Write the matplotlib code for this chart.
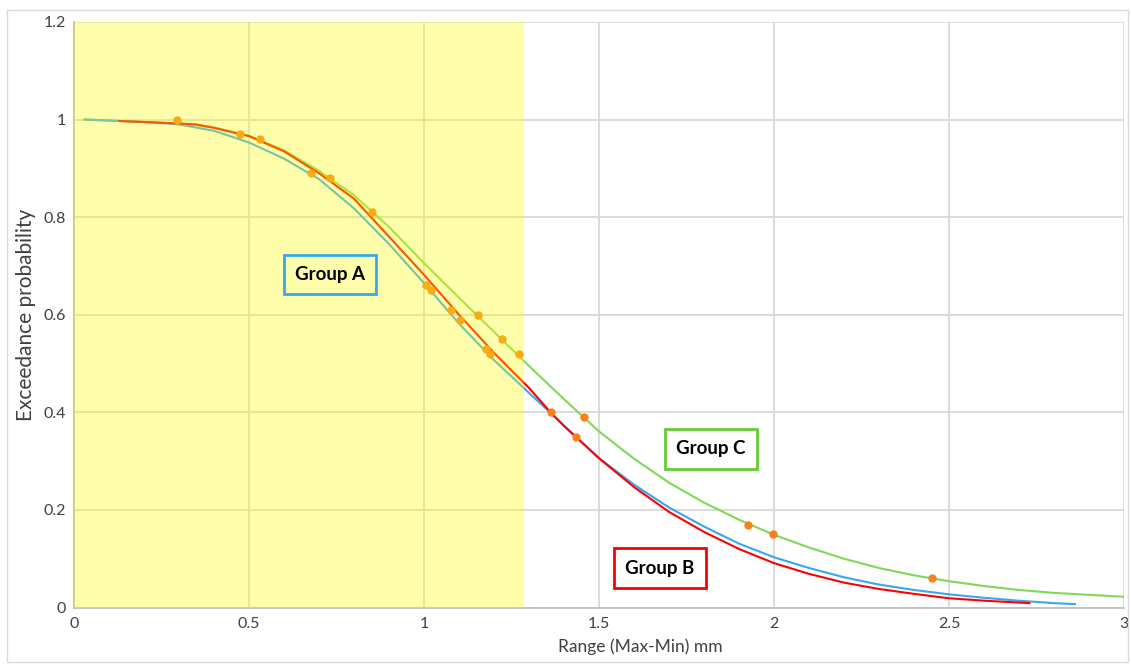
import numpy as np
import matplotlib
matplotlib.use("Agg")
import matplotlib.pyplot as plt
from matplotlib.patches import Rectangle

plt.rcParams['font.family'] = ['Lato', 'DejaVu Sans']

# fitted exceedance curves
a_x = [0.03, 0.1, 0.2, 0.3, 0.4, 0.5, 0.6, 0.7, 0.8, 0.9, 1.0, 1.1, 1.2, 1.3, 1.4,
       1.5, 1.6, 1.7, 1.8, 1.9, 2.0, 2.1, 2.2, 2.3, 2.4, 2.5, 2.6, 2.7, 2.8, 2.86]
a_y = [1.0, 0.998, 0.995, 0.99, 0.977, 0.953, 0.92, 0.878, 0.818, 0.745, 0.665, 0.582,
       0.507, 0.44, 0.373, 0.306, 0.252, 0.205, 0.166, 0.131, 0.103, 0.081, 0.062, 0.047,
       0.036, 0.027, 0.02, 0.014, 0.009, 0.007]

b_x = [0.13, 0.2, 0.3, 0.35, 0.4, 0.5, 0.6, 0.7, 0.8, 0.9, 1.0, 1.1, 1.2, 1.3, 1.363,
       1.4, 1.5, 1.6, 1.7, 1.8, 1.9, 2.0, 2.1, 2.2, 2.3, 2.4, 2.5, 2.6, 2.73]
b_y = [0.997, 0.995, 0.992, 0.99, 0.983, 0.966, 0.935, 0.89, 0.838, 0.76, 0.682, 0.6,
       0.522, 0.45, 0.399, 0.372, 0.306, 0.247, 0.196, 0.155, 0.12, 0.091, 0.069, 0.051,
       0.038, 0.028, 0.019, 0.014, 0.009]

c_x = [0.03, 0.1, 0.2, 0.3, 0.4, 0.5, 0.6, 0.7, 0.8, 0.9, 1.0, 1.1, 1.2, 1.3, 1.4, 1.5,
       1.6, 1.7, 1.8, 1.9, 2.0, 2.1, 2.2, 2.3, 2.4, 2.5, 2.6, 2.7, 2.8, 2.9, 3.0]
c_y = [1.0, 0.998, 0.995, 0.992, 0.984, 0.967, 0.937, 0.895, 0.845, 0.78, 0.706, 0.635,
       0.565, 0.495, 0.427, 0.361, 0.305, 0.256, 0.215, 0.18, 0.149, 0.123, 0.1, 0.081,
       0.066, 0.054, 0.044, 0.036, 0.03, 0.026, 0.022]

# observed points
obs_x = [0.294, 0.474, 0.531, 0.677, 0.731, 0.851, 1.007, 1.019, 1.077, 1.103, 1.155,
         1.177, 1.19, 1.223, 1.272, 1.363, 1.434, 1.457, 1.926, 1.997, 2.451]
obs_y = [1.0, 0.97, 0.96, 0.89, 0.88, 0.81, 0.66, 0.65, 0.61, 0.59, 0.60,
         0.53, 0.52, 0.55, 0.52, 0.40, 0.35, 0.39, 0.17, 0.15, 0.06]

highlight_end = 1.286

xticks = [0, 0.5, 1, 1.5, 2, 2.5, 3]
xticklabels = ['0', '0.5', '1', '1.5', '2', '2.5', '3']
yticks = [0, 0.2, 0.4, 0.6, 0.8, 1.0, 1.2]
yticklabels = ['0', '0.2', '0.4', '0.6', '0.8', '1', '1.2']

fig = plt.figure(figsize=(11.31, 6.66), dpi=100)
ax = fig.add_axes([0.0654, 0.0878, 0.9284, 0.8792])

ax.set_xlim(0, 3)
ax.set_ylim(0, 1.2)
ax.set_xticks(xticks)
ax.set_xticklabels(xticklabels)
ax.set_yticks(yticks)
ax.set_yticklabels(yticklabels)
ax.tick_params(length=0, labelsize=11.5, labelcolor='#404040')
ax.tick_params(axis='y', pad=6)
ax.tick_params(axis='x', pad=7)
ax.grid(True, color='#d9d9d9', lw=1.3, zorder=0.5)
ax.set_axisbelow(True)
for s in ['top', 'right']:
    ax.spines[s].set_visible(False)
for s in ['left', 'bottom']:
    ax.spines[s].set_color('#bfbfbf')
    ax.spines[s].set_linewidth(1.3)

ax.plot(c_x, c_y, color='#7ed957', lw=1.5, zorder=2)
ax.plot(b_x, b_y, color='#ff0000', lw=1.5, zorder=2.2)
ax.plot(a_x, a_y, color='#3aa6f0', lw=1.5, zorder=2.1)
ax.plot(obs_x, obs_y, 'o', color='#f5821f', ms=5, zorder=3)

# yellow band drawn over the curves so they tint like the original
ax.axvspan(0, highlight_end, color='#ffff00', alpha=0.33, lw=0, zorder=4)

box = dict(boxstyle='square,pad=0.6', fc='none', lw=2)
lab = dict(ha='center', va='center', fontsize=13.5, fontweight='bold', zorder=5)
ax.text(0.731, 0.682, 'Group A', bbox=dict(box, ec='#3aa6f0'), **lab)
ax.text(1.82, 0.325, 'Group C', bbox=dict(box, ec='#66cc33', fc='white'), **lab)
ax.text(1.674, 0.081, 'Group B', bbox=dict(box, ec='#ff0000', fc='white'), **lab)

ax.set_xlabel('Range (Max-Min) mm', fontsize=12.5, color='#404040')
ax.xaxis.set_label_coords(0.539, -0.052)
ax.set_ylabel('Exceedance probability', fontsize=15, color='#404040')
ax.yaxis.set_label_coords(-0.036, 0.5)

fig.patches.append(Rectangle((0.006, 0.006), 0.991, 0.979, transform=fig.transFigure,
                             fill=False, ec='#d9d9d9', lw=1))

fig.savefig('out.png', dpi=100)
